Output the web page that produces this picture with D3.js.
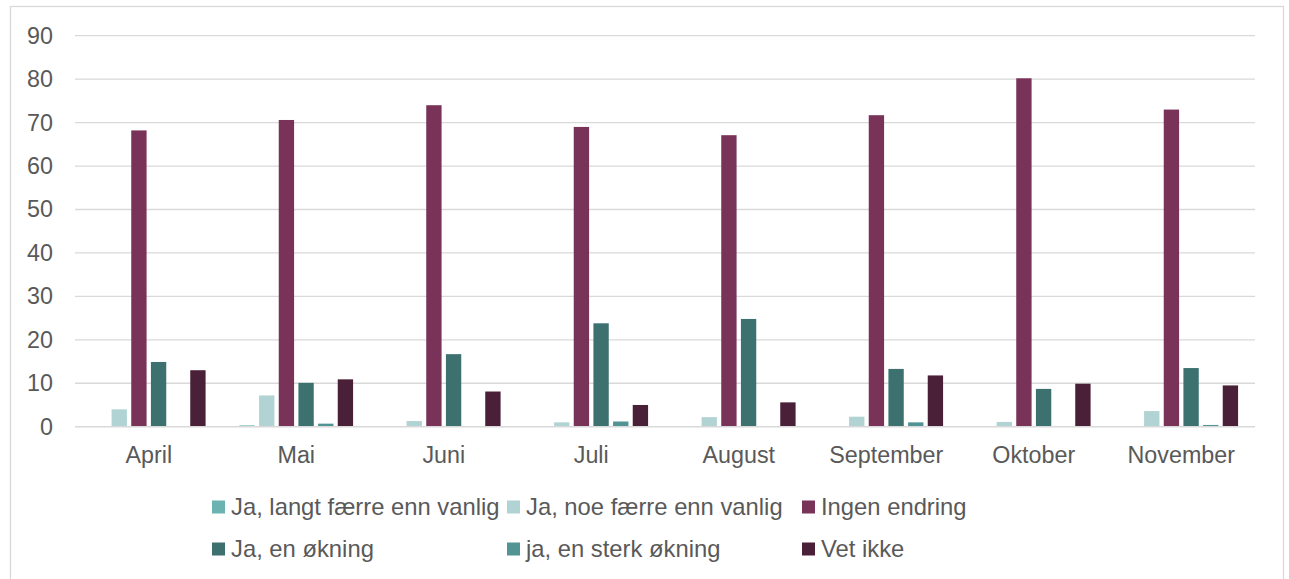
<!DOCTYPE html>
<html>
<head>
<meta charset="utf-8">
<script src="https://cdn.jsdelivr.net/npm/d3@7"></script>
<style>
  html, body { margin: 0; padding: 0; background: #fff; }
  svg { display: block; }
  text { font-family: "Liberation Sans", Arial, sans-serif; fill: #595959; }
</style>
</head>
<body>
<svg id="chart" width="1289" height="579"></svg>
<script>
const categories = ["April", "Mai", "Juni", "Juli", "August", "September", "Oktober", "November"];
const seriesNames = ["Ja, langt færre enn vanlig", "Ja, noe færre enn vanlig", "Ingen endring", "Ja, en økning", "ja, en sterk økning", "Vet ikke"];
const seriesColors = ["#6BB3B1", "#B2D3D3", "#793359", "#3C7170", "#529393", "#4A1F38"];
const langtFaerre = [0, 0.3, 0, 0, 0, 0, 0, 0];
const noeFaerre = [4.0, 7.2, 1.3, 1.0, 2.2, 2.3, 1.1, 3.6];
const ingenEndring = [68.2, 70.6, 74.0, 69.0, 67.1, 71.7, 80.2, 73.0];
const enOkning = [14.9, 10.1, 16.7, 23.8, 24.8, 13.3, 8.7, 13.5];
const sterkOkning = [0, 0.7, 0, 1.2, 0, 1.0, 0, 0.4];
const vetIkke = [13.0, 10.9, 8.1, 5.0, 5.6, 11.8, 9.9, 9.5];
const yTicks = [0, 10, 20, 30, 40, 50, 60, 70, 80, 90];

const seriesValues = [langtFaerre, noeFaerre, ingenEndring, enOkning, sterkOkning, vetIkke];

(function () {
const svg = d3.select("#chart");
const plotLeft = 75, plotRight = 1255, plotTop = 35.7, plotBottom = 426.7;

// outer border
svg.append("rect").attr("x", 10.5).attr("y", 6.5).attr("width", 1273).attr("height", 580)
  .attr("fill", "none").attr("stroke", "#D9D9D9").attr("stroke-width", 1.3);

const y = d3.scaleLinear().domain([0, 90]).range([plotBottom, plotTop]);
const x0 = d3.scaleBand().domain(categories).range([plotLeft, plotRight]).paddingInner(0.2).paddingOuter(0.1);
const x1 = d3.scaleBand().domain(d3.range(seriesNames.length)).range([0, x0.bandwidth()]).paddingInner(0.22).paddingOuter(0.11);

// gridlines
svg.append("g").selectAll("line").data(yTicks.filter(d => d > 0)).join("line")
  .attr("x1", plotLeft).attr("x2", plotRight)
  .attr("y1", d => y(d)).attr("y2", d => y(d))
  .attr("stroke", "#D9D9D9").attr("stroke-width", 1.3);

// y axis labels
const yAxis = d3.axisLeft(y).tickValues(yTicks).tickSize(0).tickPadding(0).tickFormat(d3.format("d"));
const gy = svg.append("g").attr("transform", `translate(53,0)`).call(yAxis);
gy.select(".domain").remove();
gy.selectAll("text").style("font-size", "23.3px").attr("fill", "#595959")
  .style("font-family", '"Liberation Sans", Arial, sans-serif');

// bars
const groups = svg.append("g").selectAll("g").data(categories).join("g")
  .attr("transform", d => `translate(${x0(d)},0)`);
groups.selectAll("rect")
  .data((c, ci) => seriesValues.map((vals, si) => ({ si, v: vals[ci] })))
  .join("rect")
  .attr("x", d => x1(d.si))
  .attr("width", x1.bandwidth())
  .attr("y", d => y(d.v))
  .attr("height", d => plotBottom - y(d.v))
  .attr("fill", d => seriesColors[d.si]);

// x axis
const xAxis = d3.axisBottom(x0).tickSize(0).tickPadding(0);
const gx = svg.append("g").attr("transform", `translate(0,${plotBottom})`).call(xAxis);
gx.select(".domain").attr("stroke", "#D9D9D9").attr("stroke-width", 1.6).attr("d", `M${plotLeft},0H${plotRight}`);
gx.selectAll("text").attr("dy", null).attr("y", 36).style("font-size", "23.3px").attr("fill", "#595959")
  .style("font-family", '"Liberation Sans", Arial, sans-serif');

// legend
const legendCols = [212, 507, 802];
const legendRows = [507, 549];
const legend = svg.append("g").selectAll("g").data(seriesNames).join("g")
  .attr("transform", (d, i) => `translate(${legendCols[i % 3]},${legendRows[Math.floor(i / 3)]})`);
legend.append("rect").attr("x", 0).attr("y", -6.5).attr("width", 13).attr("height", 13)
  .attr("fill", (d, i) => seriesColors[i]);
legend.append("text").attr("x", 19).attr("y", 0).attr("dy", "0.35em")
  .style("font-size", "23.8px").text(d => d);
})();
</script>
</body>
</html>
